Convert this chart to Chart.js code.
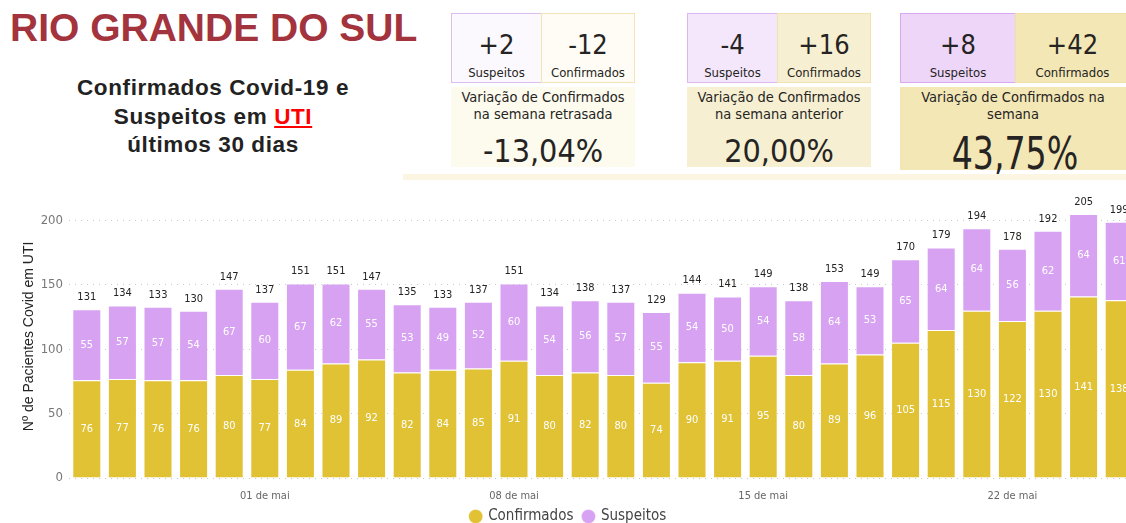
<!DOCTYPE html>
<html>
<head>
<meta charset="utf-8">
<script src="https://cdn.jsdelivr.net/npm/chart.js@4"></script>
<style>
  html, body { margin: 0; padding: 0; background: #fff; width: 1126px; height: 523px; overflow: hidden; position: relative; }
  .abs { position: absolute; }
  #titulo { left: 10px; top: 8px; font: bold 39px "Liberation Sans", Arial, sans-serif; color: #A3333D; line-height: 40px; white-space: nowrap; }
  #sub { left: 0; top: 74px; width: 426px; text-align: center; font: bold 22.5px "Liberation Sans", Arial, sans-serif; letter-spacing: 0.6px; color: #222; line-height: 28.5px; }
  #sub u { color: #f00; }
  .kpi { font-family: "DejaVu Sans Condensed", "DejaVu Sans", sans-serif; color: #252423; box-sizing: border-box; text-align: center; }
  .num { position: absolute; left: 0; right: 0; top: 16px; font-size: 27px; line-height: 30px; }
  .rot { position: absolute; left: 0; right: 0; top: 51px; font-size: 13px; line-height: 16px; }
  .txt { font-size: 14.5px; line-height: 17px; padding-top: 2px; }
  .pct { position: absolute; left: 0; right: 0; font-size: 32px; line-height: 34px; }
  #grafico { left: 0; top: 181px; width: 1137px; height: 353px; }
</style>
</head>
<body>
<div id="titulo" class="abs">RIO GRANDE DO SUL</div>
<div id="sub" class="abs">Confirmados Covid-19 e<br>Suspeitos em <u>UTI</u><br>últimos 30 dias</div>

<div class="abs" style="left:403px;top:174px;width:723px;height:6px;background:#FBF5E1"></div>

<!-- semana retrasada -->
<div class="abs kpi" style="left:451px;top:13px;width:91px;height:70px;background:#FCF9FE;border:1px solid #DDBDF0"><div class="num">+2</div><div class="rot">Suspeitos</div></div>
<div class="abs kpi" style="left:541px;top:13px;width:94px;height:70px;background:#FEFCF4;border:1px solid #F3E4B4"><div class="num">-12</div><div class="rot">Confirmados</div></div>
<div class="abs kpi txt" style="left:451px;top:87px;width:184px;height:80px;background:#FDFAEE">Variação de Confirmados<br>na semana retrasada<div class="pct" style="top:47px">-13,04%</div></div>

<!-- semana anterior -->
<div class="abs kpi" style="left:687px;top:13px;width:91px;height:70px;background:#F4E7FB;border:1px solid #DDB8F0"><div class="num">-4</div><div class="rot">Suspeitos</div></div>
<div class="abs kpi" style="left:777px;top:13px;width:94px;height:70px;background:#F6EFD1;border:1px solid #F1E2AE"><div class="num">+16</div><div class="rot">Confirmados</div></div>
<div class="abs kpi txt" style="left:687px;top:87px;width:184px;height:80px;background:#F6EFD2">Variação de Confirmados<br>na semana anterior<div class="pct" style="top:47px">20,00%</div></div>

<!-- semana -->
<div class="abs kpi" style="left:900px;top:13px;width:116px;height:70px;background:#EED6F9;border:1px solid #D9A8F0"><div class="num">+8</div><div class="rot">Suspeitos</div></div>
<div class="abs kpi" style="left:1015px;top:13px;width:115px;height:70px;background:#F3E7B6;border:1px solid #F0E0A8"><div class="num">+42</div><div class="rot">Confirmados</div></div>
<div class="abs kpi txt" style="left:900px;top:87px;width:230px;height:83px;background:#F3E7B6;padding-right:4px">Variação de Confirmados na<br>semana<div class="pct" style="top:44px;font-size:45px;line-height:46px;transform:scaleX(0.82)">43,75%</div></div>

<div id="grafico" class="abs"><canvas id="cv"></canvas></div>

<script>
// dados (26 de abr a 25 de mai)
var dias = ["26 de abr","27 de abr","28 de abr","29 de abr","30 de abr",
            "01 de mai","02 de mai","03 de mai","04 de mai","05 de mai","06 de mai","07 de mai",
            "08 de mai","09 de mai","10 de mai","11 de mai","12 de mai","13 de mai","14 de mai",
            "15 de mai","16 de mai","17 de mai","18 de mai","19 de mai","20 de mai","21 de mai",
            "22 de mai","23 de mai","24 de mai","25 de mai"];
var rotulosVisiveis = ["01 de mai","08 de mai","15 de mai","22 de mai"];
var confirmados = [76,77,76,76,80,77,84,89,92,82,84,85,91,80,82,80,74,90,91,95,80,89,96,105,115,130,122,130,141,138];
var suspeitos   = [55,57,57,54,67,60,67,62,55,53,49,52,60,54,56,57,55,54,50,54,58,64,53,65,64,64,56,62,64,61];
var totais      = [131,134,133,130,147,137,151,151,147,135,133,137,151,134,138,137,129,144,141,149,138,153,149,170,179,194,178,192,205,199];
var yTicks = [0,50,100,150,200];

var corConf = "#E0C234";
var corSusp = "#D8A2F2";
var fonteDin = '"DejaVu Sans Condensed", "DejaVu Sans", sans-serif';

// rótulos dentro das barras e total acima
const rotulos = {
    id: 'rotulos',
    afterDatasetsDraw(chart){
        const ctx = chart.ctx;
        ctx.save();
        ctx.textAlign = 'center';
        ctx.textBaseline = 'middle';
        ctx.font = '11px ' + fonteDin;
        chart.data.datasets.forEach((ds, i)=>{
            chart.getDatasetMeta(i).data.forEach((bar, j)=>{
                ctx.fillStyle = '#ffffff';
                ctx.fillText(ds.data[j], bar.x, (bar.y + bar.base)/2);
            });
        });
        chart.getDatasetMeta(1).data.forEach((bar, j)=>{
            ctx.fillStyle = '#252423';
            ctx.fillText(totais[j], bar.x, bar.y - 12);
        });
        ctx.restore();
    }
};

new Chart("cv", {
    type: "bar",
    data: {
        labels: dias,
        datasets: [{
            label: "Confirmados",
            backgroundColor: corConf,
            borderColor: "rgba(255,255,255,0.35)",
            borderWidth: 1,
            data: confirmados
        },{
            label: "Suspeitos",
            backgroundColor: corSusp,
            borderColor: "rgba(255,255,255,0.35)",
            borderWidth: 1,
            data: suspeitos
        }]
    },
    options: {
        responsive: true,
        maintainAspectRatio: false,
        animation: false,
        layout: { padding: { top: 4, right: 0, left: 0, bottom: 0 } },
        datasets: { bar: { categoryPercentage: 1, barPercentage: 0.815 } },
        plugins: {
            tooltip: { enabled: false },
            legend: {
                position: "bottom",
                labels: {
                    usePointStyle: true,
                    pointStyle: "circle",
                    boxWidth: 10,
                    boxHeight: 10,
                    padding: 10,
                    color: "#444",
                    font: { family: fonteDin, size: 15 }
                }
            }
        },
        scales: {
            x: {
                stacked: true,
                grid: { display: false },
                border: { display: false },
                afterFit: function(s){ s.height = 21; },
                ticks: {
                    autoSkip: false,
                    maxRotation: 0,
                    padding: 4,
                    color: "#666",
                    font: { family: fonteDin, size: 11 },
                    callback: function(v, i){
                        return rotulosVisiveis.indexOf(dias[i]) >= 0 ? dias[i] : "";
                    }
                }
            },
            y: {
                stacked: true,
                min: 0,
                max: 220,
                afterFit: function(s){ s.width = 69; },
                afterBuildTicks: function(s){
                    s.ticks = yTicks.map(function(v){ return { value: v }; });
                },
                border: { display: false, dash: [1, 5] },
                grid: { color: "#C8C8C8", drawTicks: false, lineWidth: 1 },
                ticks: {
                    padding: 6,
                    color: "#777",
                    font: { family: fonteDin, size: 13 }
                },
                title: {
                    display: true,
                    text: "Nº de Pacientes Covid em UTI",
                    color: "#252423",
                    font: { family: "'Liberation Sans', Arial, sans-serif", size: 14 },
                    padding: { top: 21, bottom: 0 }
                }
            }
        }
    },
    plugins: [rotulos]
});
</script>
</body>
</html>
